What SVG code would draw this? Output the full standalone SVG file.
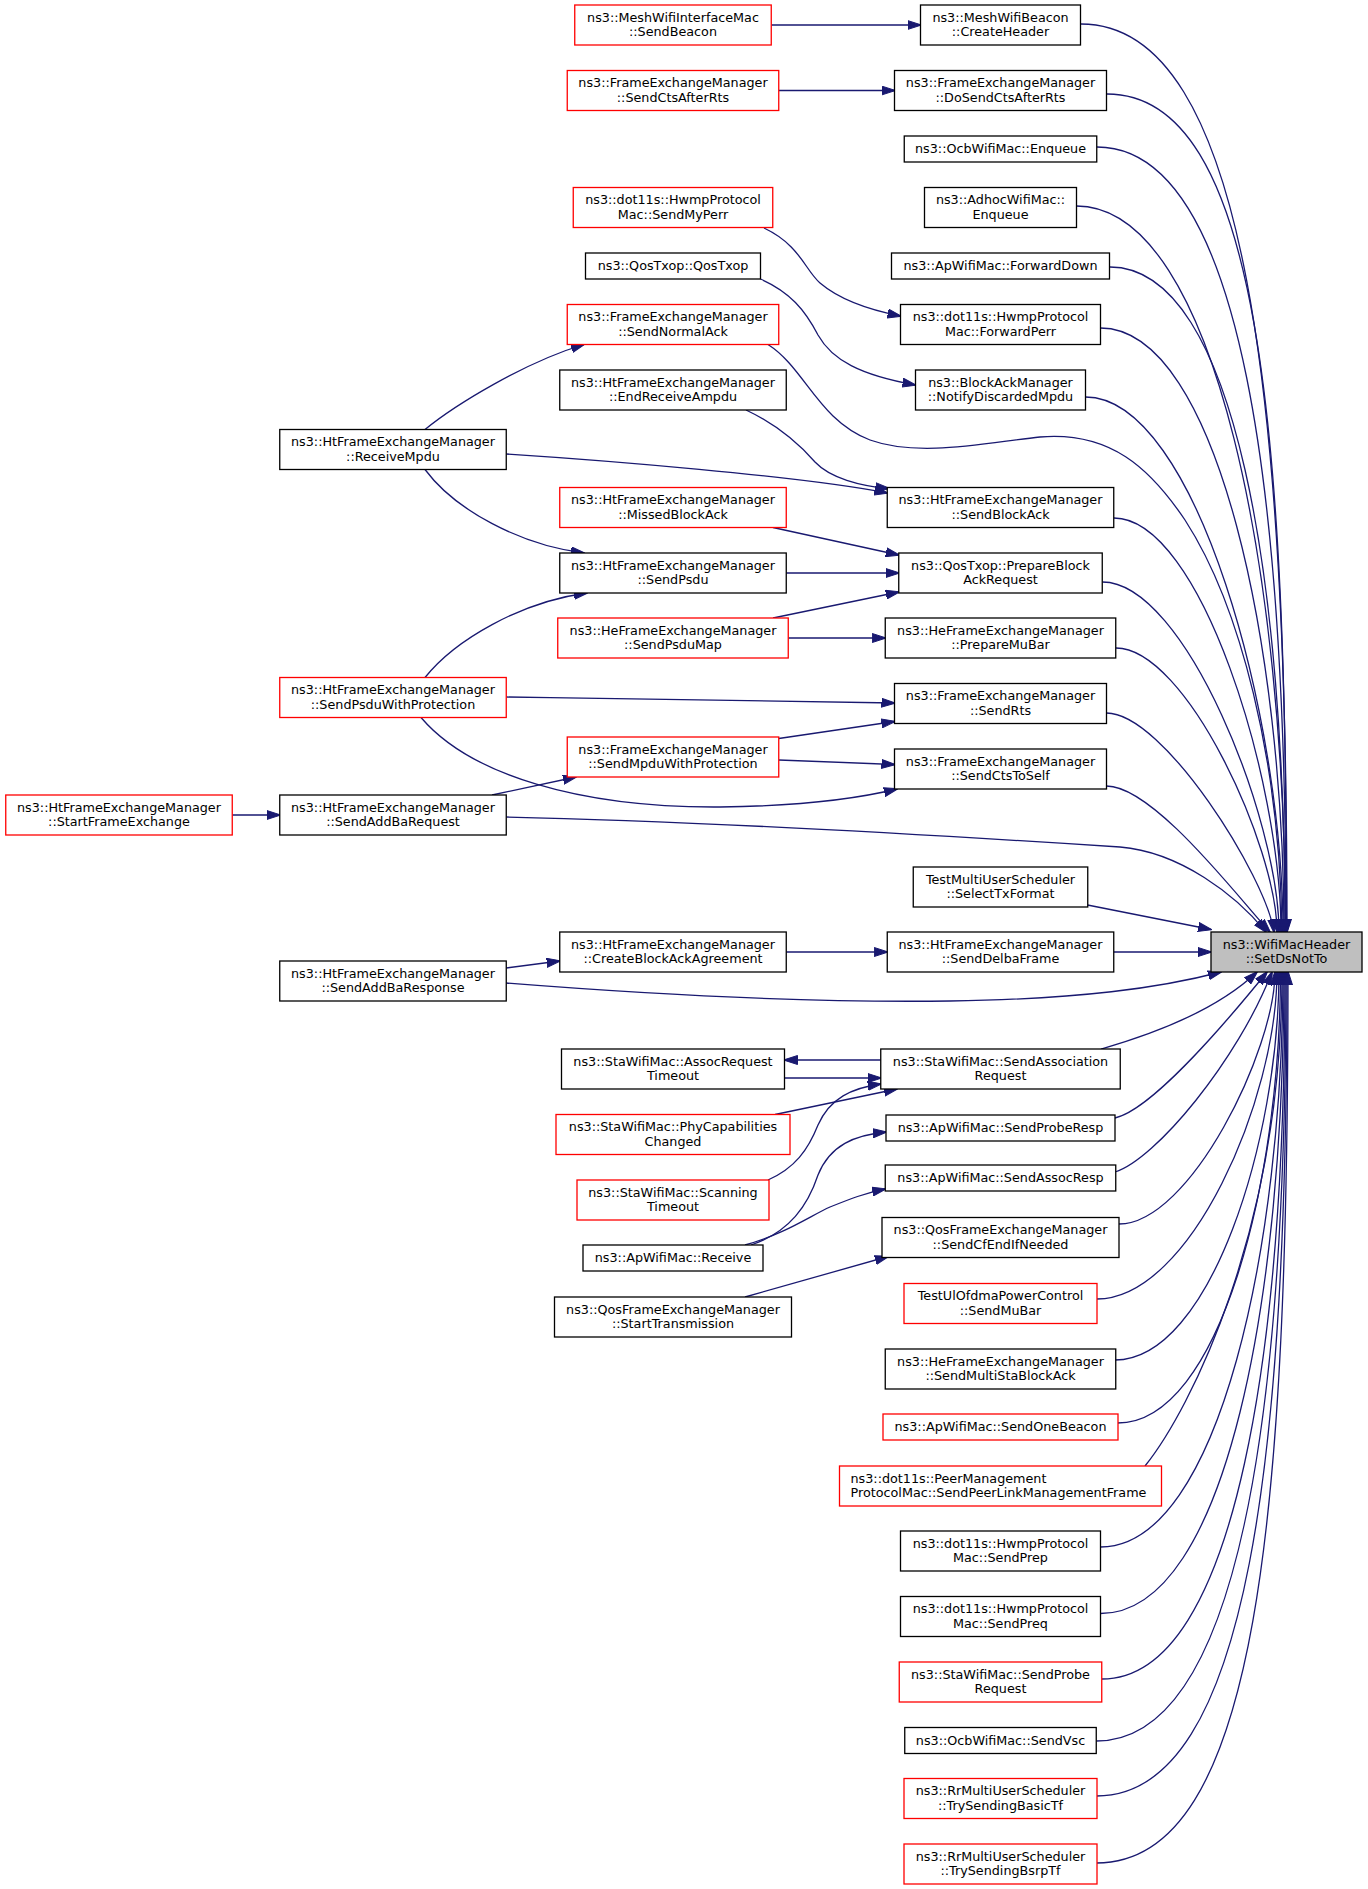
<svg xmlns="http://www.w3.org/2000/svg" width="1368" height="1889" viewBox="0 0 1368 1889">
<defs>
<marker id="ah" viewBox="0 0 14 10" refX="13" refY="5" markerWidth="14" markerHeight="10" markerUnits="userSpaceOnUse" orient="auto">
<path d="M0,0.5 L14,5 L0,9.5 z" fill="#191970" stroke="#191970" stroke-width="1"/>
</marker>
<style>
.n rect{fill:#ffffff;stroke:#000000;stroke-width:1.3}
.r rect{stroke:#ff0000}
.m rect{fill:#bfbfbf}
text{font-family:"DejaVu Sans","Liberation Sans",sans-serif;font-size:12.75px;text-anchor:middle;fill:#000000}
text.l{text-anchor:start}
#edges path{fill:none;stroke:#191970;stroke-width:1.3;marker-end:url(#ah)}
</style>
</defs>
<rect x="0" y="0" width="1368" height="1889" fill="#ffffff"/>
<g id="edges">
<path d="M771.25,25 L920.5,25"/>
<path d="M778.75,90.5 L894.5,90.5"/>
<path d="M764,228 C800,245 805,270 820,283 C840,300 870,310 900.5,316"/>
<path d="M760.5,279 C790,292 805,310 818,335 C832,360 860,375 915.5,385"/>
<path d="M746,410 C780,426 800,445 815,462 C830,478 860,486 889,488.5"/>
<path d="M506.25,454 C600,460 800,476 887.25,493"/>
<path d="M773,527.5 L898.75,555"/>
<path d="M786.25,573 L898.75,573"/>
<path d="M773,618 L898.75,592"/>
<path d="M788.25,638 L885.25,638"/>
<path d="M506.25,697 C650,699 800,701 894.5,703"/>
<path d="M778.75,738.5 L894.5,721.5"/>
<path d="M778.75,760 L894.5,764.5"/>
<path d="M421,717.5 C470,775 580,808 720,807 C800,806 860,798 897,789"/>
<path d="M492,795 L576,777"/>
<path d="M506.25,817 C700,821 950,836 1120,847 C1180,852 1236,895 1266,932"/>
<path d="M232.25,815 L279.75,815"/>
<path d="M425,429.5 C455,405 525,362 584,344.5"/>
<path d="M425,469.5 C455,510 520,545 584,553"/>
<path d="M425,677.5 C455,640 520,602 587,593"/>
<path d="M786.25,952 L887.25,952"/>
<path d="M1113.75,952 L1211,952"/>
<path d="M1087.5,905 L1211,929.5"/>
<path d="M506.25,968 L559.75,961"/>
<path d="M506.25,983 C620,992 800,1003 950,1001 C1080,999 1160,988 1221,972"/>
<path d="M880.75,1060 L784.5,1060"/>
<path d="M784.5,1078 L880.75,1078"/>
<path d="M775,1114.5 L897,1089"/>
<path d="M768,1180 C795,1168 808,1150 818,1125 C830,1098 852,1088 880.75,1084"/>
<path d="M751,1245 C790,1232 808,1205 818,1175 C830,1145 855,1135 886,1132"/>
<path d="M745,1245 C785,1234 810,1216 830,1207 C850,1199 865,1193 885.25,1189"/>
<path d="M745,1297 L888,1256.5"/>
<path d="M768,344.5 C805,368 818,420 870,440 C920,458 990,442 1040,437 C1110,431 1150,468 1185,520 C1240,605 1280,760 1282,932"/>
<path d="M1081,24 C1248,24 1287,405 1287,932"/>
<path d="M1107,94 C1260,94 1286.5,429 1286.5,932"/>
<path d="M1097,147 C1244,147 1286,500 1286,932"/>
<path d="M1076.5,206 C1217.5,206 1285.5,583 1285.5,932"/>
<path d="M1110,267 C1236.7,267 1285,586 1285,932"/>
<path d="M1100.5,328 C1218.6,328 1284,654 1284,932"/>
<path d="M1085.5,397 C1196,397 1283,718 1283,932"/>
<path d="M1114,518 C1200,518 1281,779 1281,932"/>
<path d="M1102.5,582 C1185,582 1279,820 1279,932"/>
<path d="M1116,648 C1186,648 1277,847 1277,932"/>
<path d="M1106.5,713 C1163.7,713 1266,877 1274,932"/>
<path d="M1106.5,786 C1154,786 1240,900 1270,932"/>
<path d="M1101,1049 C1150,1035 1215,1012 1257,972"/>
<path d="M1115,1118 C1150,1110 1220,1030 1267,972"/>
<path d="M1115,1172 C1155,1160 1238,1060 1272,972"/>
<path d="M1119,1224 C1190,1224 1275,1050 1275,972"/>
<path d="M1097,1299 C1190,1299 1277,1100 1277,972"/>
<path d="M1115,1360 C1210,1360 1279,1140 1279,972"/>
<path d="M1117.5,1423 C1220,1423 1280.5,1180 1280.5,972"/>
<path d="M1145,1466 C1190,1410 1282,1230 1282,972"/>
<path d="M1100.5,1547 C1220,1547 1283,1240 1283,972"/>
<path d="M1100.5,1613.5 C1228,1613.5 1284,1290 1284,972"/>
<path d="M1101.75,1679 C1238,1679 1285,1340 1285,972"/>
<path d="M1096.5,1741 C1243,1741 1286,1395 1286,972"/>
<path d="M1096.5,1796 C1250,1796 1287,1450 1287,972"/>
<path d="M1096.5,1863 C1258,1863 1288,1515 1288,972"/>
</g>
<g id="n_main" class="n m"><rect x="1211" y="932" width="151" height="40"/><text x="1286.5" y="948.9">ns3::WifiMacHeader</text><text x="1286.5" y="963.4">::SetDsNotTo</text></g>
<g id="n_c1" class="n"><rect x="920.5" y="5" width="160" height="40"/><text x="1000.5" y="21.9">ns3::MeshWifiBeacon</text><text x="1000.5" y="36.4">::CreateHeader</text></g>
<g id="n_c2" class="n"><rect x="894.5" y="70.5" width="212" height="40"/><text x="1000.5" y="87.4">ns3::FrameExchangeManager</text><text x="1000.5" y="101.9">::DoSendCtsAfterRts</text></g>
<g id="n_c3" class="n"><rect x="904.25" y="136" width="192.5" height="26"/><text x="1000.5" y="153.4">ns3::OcbWifiMac::Enqueue</text></g>
<g id="n_c4" class="n"><rect x="924.5" y="187.5" width="152" height="40"/><text x="1000.5" y="204.4">ns3::AdhocWifiMac::</text><text x="1000.5" y="218.9">Enqueue</text></g>
<g id="n_c5" class="n"><rect x="891.5" y="253" width="218" height="26"/><text x="1000.5" y="270.4">ns3::ApWifiMac::ForwardDown</text></g>
<g id="n_c6" class="n"><rect x="900.5" y="304.5" width="200" height="40"/><text x="1000.5" y="321.4">ns3::dot11s::HwmpProtocol</text><text x="1000.5" y="335.9">Mac::ForwardPerr</text></g>
<g id="n_c7" class="n"><rect x="915.5" y="370" width="170" height="40"/><text x="1000.5" y="386.9">ns3::BlockAckManager</text><text x="1000.5" y="401.4">::NotifyDiscardedMpdu</text></g>
<g id="n_c8" class="n"><rect x="887.25" y="487.5" width="226.5" height="40"/><text x="1000.5" y="504.4">ns3::HtFrameExchangeManager</text><text x="1000.5" y="518.9">::SendBlockAck</text></g>
<g id="n_c9" class="n"><rect x="898.75" y="553" width="203.5" height="40"/><text x="1000.5" y="569.9">ns3::QosTxop::PrepareBlock</text><text x="1000.5" y="584.4">AckRequest</text></g>
<g id="n_c10" class="n"><rect x="885.25" y="618" width="230.5" height="40"/><text x="1000.5" y="634.9">ns3::HeFrameExchangeManager</text><text x="1000.5" y="649.4">::PrepareMuBar</text></g>
<g id="n_c11" class="n"><rect x="894.5" y="683.5" width="212" height="40"/><text x="1000.5" y="700.4">ns3::FrameExchangeManager</text><text x="1000.5" y="714.9">::SendRts</text></g>
<g id="n_c12" class="n"><rect x="894.5" y="749" width="212" height="40"/><text x="1000.5" y="765.9">ns3::FrameExchangeManager</text><text x="1000.5" y="780.4">::SendCtsToSelf</text></g>
<g id="n_c13" class="n"><rect x="913.25" y="867" width="174.5" height="40"/><text x="1000.5" y="883.9">TestMultiUserScheduler</text><text x="1000.5" y="898.4">::SelectTxFormat</text></g>
<g id="n_c14" class="n"><rect x="887.25" y="932" width="226.5" height="40"/><text x="1000.5" y="948.9">ns3::HtFrameExchangeManager</text><text x="1000.5" y="963.4">::SendDelbaFrame</text></g>
<g id="n_c15" class="n"><rect x="880.75" y="1049" width="239.5" height="40"/><text x="1000.5" y="1065.9">ns3::StaWifiMac::SendAssociation</text><text x="1000.5" y="1080.4">Request</text></g>
<g id="n_c16" class="n"><rect x="886" y="1115" width="229" height="26"/><text x="1000.5" y="1132.4">ns3::ApWifiMac::SendProbeResp</text></g>
<g id="n_c17" class="n"><rect x="885.25" y="1165" width="230.5" height="26"/><text x="1000.5" y="1182.4">ns3::ApWifiMac::SendAssocResp</text></g>
<g id="n_c18" class="n"><rect x="882" y="1217.5" width="237" height="40"/><text x="1000.5" y="1234.4">ns3::QosFrameExchangeManager</text><text x="1000.5" y="1248.9">::SendCfEndIfNeeded</text></g>
<g id="n_c19" class="n r"><rect x="904" y="1283.5" width="193" height="40"/><text x="1000.5" y="1300.4">TestUlOfdmaPowerControl</text><text x="1000.5" y="1314.9">::SendMuBar</text></g>
<g id="n_c20" class="n"><rect x="885.25" y="1349" width="230.5" height="40"/><text x="1000.5" y="1365.9">ns3::HeFrameExchangeManager</text><text x="1000.5" y="1380.4">::SendMultiStaBlockAck</text></g>
<g id="n_c21" class="n r"><rect x="883" y="1414" width="235" height="26"/><text x="1000.5" y="1431.4">ns3::ApWifiMac::SendOneBeacon</text></g>
<g id="n_c22" class="n r"><rect x="839.5" y="1466" width="322" height="40"/><text class="l" x="850.5" y="1482.9">ns3::dot11s::PeerManagement</text><text class="l" x="850.5" y="1497.4">ProtocolMac::SendPeerLinkManagementFrame</text></g>
<g id="n_c23" class="n"><rect x="900.5" y="1531" width="200" height="40"/><text x="1000.5" y="1547.9">ns3::dot11s::HwmpProtocol</text><text x="1000.5" y="1562.4">Mac::SendPrep</text></g>
<g id="n_c24" class="n"><rect x="900.5" y="1596.5" width="200" height="40"/><text x="1000.5" y="1613.4">ns3::dot11s::HwmpProtocol</text><text x="1000.5" y="1627.9">Mac::SendPreq</text></g>
<g id="n_c25" class="n r"><rect x="899.25" y="1662" width="202.5" height="40"/><text x="1000.5" y="1678.9">ns3::StaWifiMac::SendProbe</text><text x="1000.5" y="1693.4">Request</text></g>
<g id="n_c26" class="n"><rect x="904.75" y="1727.5" width="191.5" height="26"/><text x="1000.5" y="1744.9">ns3::OcbWifiMac::SendVsc</text></g>
<g id="n_c27" class="n r"><rect x="904" y="1778.5" width="193" height="40"/><text x="1000.5" y="1795.4">ns3::RrMultiUserScheduler</text><text x="1000.5" y="1809.9">::TrySendingBasicTf</text></g>
<g id="n_c28" class="n r"><rect x="904" y="1844" width="193" height="40"/><text x="1000.5" y="1860.9">ns3::RrMultiUserScheduler</text><text x="1000.5" y="1875.4">::TrySendingBsrpTf</text></g>
<g id="n_b1" class="n r"><rect x="574.75" y="5" width="196.5" height="40"/><text x="673" y="21.9">ns3::MeshWifiInterfaceMac</text><text x="673" y="36.4">::SendBeacon</text></g>
<g id="n_b2" class="n r"><rect x="567.25" y="70.5" width="211.5" height="40"/><text x="673" y="87.4">ns3::FrameExchangeManager</text><text x="673" y="101.9">::SendCtsAfterRts</text></g>
<g id="n_b3" class="n r"><rect x="573.25" y="187.5" width="199.5" height="40"/><text x="673" y="204.4">ns3::dot11s::HwmpProtocol</text><text x="673" y="218.9">Mac::SendMyPerr</text></g>
<g id="n_b4" class="n"><rect x="585.5" y="253" width="175" height="26"/><text x="673" y="270.4">ns3::QosTxop::QosTxop</text></g>
<g id="n_b5" class="n r"><rect x="567.25" y="304.5" width="211.5" height="40"/><text x="673" y="321.4">ns3::FrameExchangeManager</text><text x="673" y="335.9">::SendNormalAck</text></g>
<g id="n_b6" class="n"><rect x="559.75" y="370" width="226.5" height="40"/><text x="673" y="386.9">ns3::HtFrameExchangeManager</text><text x="673" y="401.4">::EndReceiveAmpdu</text></g>
<g id="n_b7" class="n r"><rect x="559.75" y="487.5" width="226.5" height="40"/><text x="673" y="504.4">ns3::HtFrameExchangeManager</text><text x="673" y="518.9">::MissedBlockAck</text></g>
<g id="n_b8" class="n"><rect x="559.75" y="553" width="226.5" height="40"/><text x="673" y="569.9">ns3::HtFrameExchangeManager</text><text x="673" y="584.4">::SendPsdu</text></g>
<g id="n_b9" class="n r"><rect x="557.75" y="618" width="230.5" height="40"/><text x="673" y="634.9">ns3::HeFrameExchangeManager</text><text x="673" y="649.4">::SendPsduMap</text></g>
<g id="n_b10" class="n r"><rect x="567.25" y="737" width="211.5" height="40"/><text x="673" y="753.9">ns3::FrameExchangeManager</text><text x="673" y="768.4">::SendMpduWithProtection</text></g>
<g id="n_b11" class="n"><rect x="559.75" y="932" width="226.5" height="40"/><text x="673" y="948.9">ns3::HtFrameExchangeManager</text><text x="673" y="963.4">::CreateBlockAckAgreement</text></g>
<g id="n_b12" class="n"><rect x="561.5" y="1049" width="223" height="40"/><text x="673" y="1065.9">ns3::StaWifiMac::AssocRequest</text><text x="673" y="1080.4">Timeout</text></g>
<g id="n_b13" class="n r"><rect x="556" y="1114.5" width="234" height="40"/><text x="673" y="1131.4">ns3::StaWifiMac::PhyCapabilities</text><text x="673" y="1145.9">Changed</text></g>
<g id="n_b14" class="n r"><rect x="577" y="1180" width="192" height="40"/><text x="673" y="1196.9">ns3::StaWifiMac::Scanning</text><text x="673" y="1211.4">Timeout</text></g>
<g id="n_b15" class="n"><rect x="583" y="1245" width="180" height="26"/><text x="673" y="1262.4">ns3::ApWifiMac::Receive</text></g>
<g id="n_b16" class="n"><rect x="554.5" y="1297" width="237" height="40"/><text x="673" y="1313.9">ns3::QosFrameExchangeManager</text><text x="673" y="1328.4">::StartTransmission</text></g>
<g id="n_a1" class="n"><rect x="279.75" y="429.5" width="226.5" height="40"/><text x="393" y="446.4">ns3::HtFrameExchangeManager</text><text x="393" y="460.9">::ReceiveMpdu</text></g>
<g id="n_a2" class="n r"><rect x="279.75" y="677.5" width="226.5" height="40"/><text x="393" y="694.4">ns3::HtFrameExchangeManager</text><text x="393" y="708.9">::SendPsduWithProtection</text></g>
<g id="n_a3" class="n"><rect x="279.75" y="795" width="226.5" height="40"/><text x="393" y="811.9">ns3::HtFrameExchangeManager</text><text x="393" y="826.4">::SendAddBaRequest</text></g>
<g id="n_a4" class="n"><rect x="279.75" y="961" width="226.5" height="40"/><text x="393" y="977.9">ns3::HtFrameExchangeManager</text><text x="393" y="992.4">::SendAddBaResponse</text></g>
<g id="n_z1" class="n r"><rect x="5.75" y="795" width="226.5" height="40"/><text x="119" y="811.9">ns3::HtFrameExchangeManager</text><text x="119" y="826.4">::StartFrameExchange</text></g>
</svg>
